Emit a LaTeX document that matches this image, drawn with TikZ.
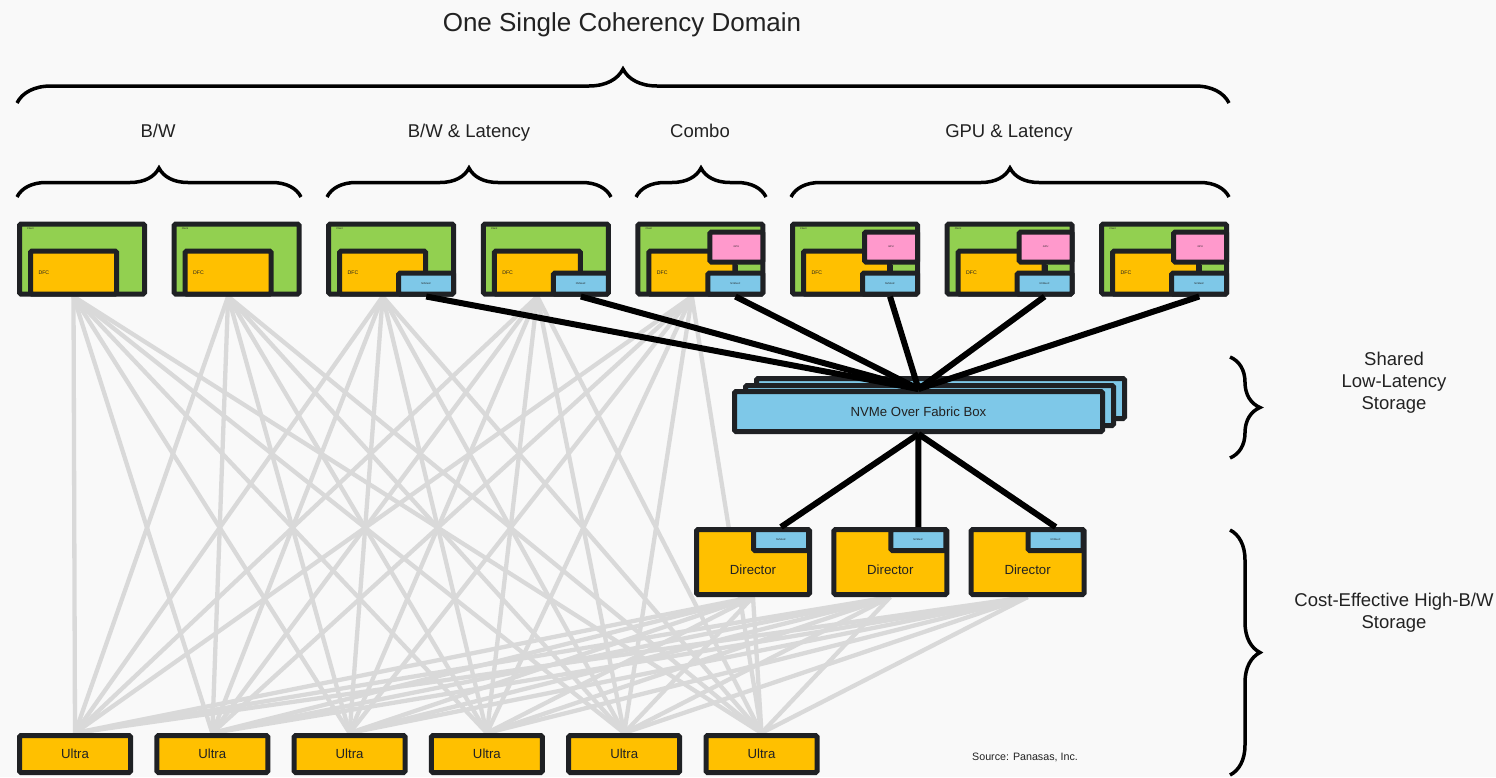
\documentclass[tikz,border=0pt]{standalone}
\usepackage{fontspec}
\setmainfont{Liberation Sans}
\usetikzlibrary{decorations.pathreplacing}

\definecolor{pagebg}{HTML}{F9F9F9}
\definecolor{boxline}{HTML}{1F2124}
\definecolor{clientgreen}{HTML}{92D050}
\definecolor{dfcorange}{HTML}{FFC000}
\definecolor{iniblue}{HTML}{7EC8E8}
\definecolor{gpupink}{HTML}{FF99CC}
\definecolor{fabricgrey}{HTML}{D9D9D9}
\definecolor{labeltext}{HTML}{222222}

\pgfdeclarelayer{bg}
\pgfdeclarelayer{links}
\pgfsetlayers{bg,links,main}

\begin{document}
\begin{tikzpicture}[x=1pt,y=-1pt,
  box/.style={draw=boxline,line width=5pt,rectangle,inner sep=0pt,rounded corners=1.5pt,text=labeltext},
  client/.style={box,fill=clientgreen,minimum width=125pt,minimum height=70pt},
  dfc/.style={box,fill=dfcorange,minimum width=86pt,minimum height=43pt,
    text width=70pt,align=left,font=\fontsize{5.2}{6}\selectfont},
  ini/.style={box,fill=iniblue,minimum width=55pt,minimum height=21pt,font=\fontsize{2.5}{3}\selectfont},
  gpu/.style={box,fill=gpupink,minimum width=53pt,minimum height=30pt,font=\fontsize{2.5}{3}\selectfont},
  tinytext/.style={inner sep=0pt,text=labeltext,font=\fontsize{2.5}{3}\selectfont},
  director/.style={box,fill=dfcorange,minimum width=113pt,minimum height=65pt},
  dirtext/.style={inner sep=0pt,text=labeltext,font=\fontsize{13.2}{15}\selectfont},
  ultra/.style={box,fill=dfcorange,minimum width=111pt,minimum height=37pt,font=\fontsize{13.2}{15}\selectfont},
  nvme/.style={box,fill=iniblue,minimum width=368pt,minimum height=40pt,font=\fontsize{13.2}{15}\selectfont},
  stem/.style={draw=boxline,line width=4pt},
  fabric/.style={draw=fabricgrey,line width=4.3pt},
  nvlink/.style={draw=black,line width=6pt},
  curly/.style={draw=black,line width=3.5pt,decorate},
  heading/.style={text=labeltext,inner sep=0pt,font=\fontsize{18.5}{22}\selectfont,align=center}]

  \begin{pgfonlayer}{bg}
    \fill[pagebg] (0,0) rectangle (1496,777);
  \end{pgfonlayer}
  \useasboundingbox (0,0) rectangle (1496,777);

  % headings and braces
  \node[heading,anchor=base,font=\fontsize{26}{30}\selectfont] (title) at (622,31) {One Single Coherency Domain};
  \draw[curly,decoration={brace,amplitude=34pt}] (17,103) -- (1229,103);
  \node[heading,anchor=base] (grpbw) at (158,137) {B/W};
  \node[heading,anchor=base] (grpbwlat) at (469,137) {B/W \& Latency};
  \node[heading,anchor=base] (grpcombo) at (700,137) {Combo};
  \node[heading,anchor=base] (grpgpu) at (1009,137) {GPU \& Latency};
  \draw[curly,decoration={brace,amplitude=29pt}] (17,197) -- (301,197);
  \draw[curly,decoration={brace,amplitude=29pt}] (327,197) -- (611,197);
  \draw[curly,decoration={brace,amplitude=29pt}] (636,197) -- (766,197);
  \draw[curly,decoration={brace,amplitude=29pt}] (791,197) -- (1229,197);

  % clients
  \foreach \i in {1,...,8} {
    \pgfmathsetmacro\cx{82+(\i-1)*154.6}
    \node[client] (client\i) at (\cx,259) {};
    \node[tinytext,anchor=north west] (clientlbl\i) at ([shift={(10,6)}]client\i.north west) {Client};
    \node[dfc] (dfc\i) at ([shift={(-8.5,13.5)}]client\i.center) {DFC};
  }
  \foreach \i in {3,...,8}
    \node[ini] (ini\i) at ([shift={(35,24.5)}]client\i.center) {NVMeoF};
  \foreach \i in {5,...,8} {
    \node[gpu] (gpu\i) at ([shift={(36,-12)}]client\i.center) {GPU};
    \draw[stem] (gpu\i.south) -- (gpu\i.south |- ini\i.north);
  }

  % shared low-latency storage
  \node[nvme] (nvme3) at (940.5,398.5) {};
  \node[nvme] (nvme2) at (929.5,405.5) {};
  \node[nvme] (nvme) at (918.5,411.5) {NVMe Over Fabric Box};

  % directors
  \foreach \k in {1,2,3} {
    \pgfmathsetmacro\dx{753+(\k-1)*137.3}
    \node[director] (dir\k) at (\dx,562) {};
    \node[dirtext] (dirlbl\k) at ([shift={(0,8)}]dir\k.center) {Director};
    \node[ini] (dini\k) at ([shift={(28,-22)}]dir\k.center) {NVMeoF};
  }

  % ultras
  \foreach \j in {1,...,6}
    \node[ultra] (ultra\j) at ({75+(\j-1)*137.3},754) {Ultra};

  % links
  \begin{pgfonlayer}{links}
    \foreach \i in {1,...,5}
      \foreach \j in {1,...,6}
        \draw[fabric] (dfc\i.south) -- (ultra\j.north);
    \foreach \k in {1,2,3}
      \foreach \j in {1,...,6}
        \draw[fabric] (dir\k.south) -- (ultra\j.north);
  \end{pgfonlayer}
  \foreach \i in {3,...,8}
    \draw[nvlink] (ini\i.south) -- (nvme.north);
  \foreach \k in {1,2,3}
    \draw[nvlink] (nvme.south) -- (dini\k.north);

  % right side
  \draw[curly,decoration={brace,amplitude=30pt}] (1230,357) -- (1230,458);
  \draw[curly,decoration={brace,amplitude=30pt}] (1230,530) -- (1230,775);
  \node[heading] (shared) at (1394,383) {Shared\\Low-Latency\\Storage};
  \node[heading] (costeff) at (1394,613) {Cost-Effective High-B/W\\Storage};
  \node[heading,font=\fontsize{10.7}{12}\selectfont] (source) at (1025,757) {Source: Panasas, Inc.};
\end{tikzpicture}
\end{document}
